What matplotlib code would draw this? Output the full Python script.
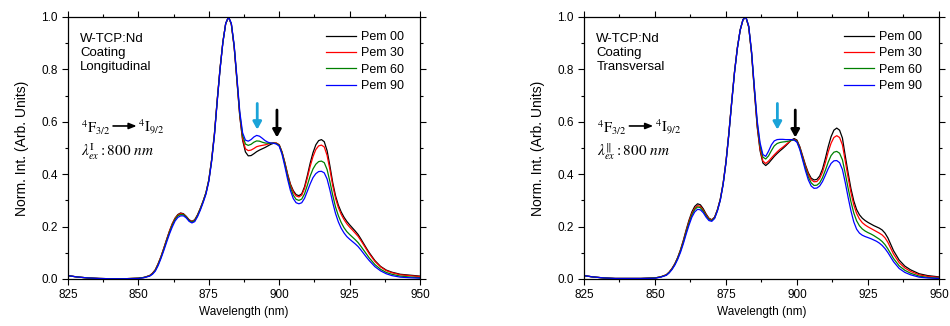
"""
nd_emission_spectra.py

Normalised Nd3+ emission (4F3/2 -> 4I9/2) of W-TCP:Nd coatings for four
polarisation angles, longitudinal and transversal, side by side.
"""

import matplotlib.pyplot as plt
from matplotlib.ticker import MultipleLocator

plt.rcParams["font.family"] = ["Liberation Sans", "DejaVu Sans"]
plt.rcParams["mathtext.fontset"] = "stix"

# wavelength grid (nm): coarse on the flat tails, 1 nm across the bands
wavelength = ([825, 828, 832, 836, 840, 845, 850, 852, 854]
              + list(range(855, 933))
              + [934, 936, 938, 940, 943, 946, 950])

series_names = ["Pem 00", "Pem 30", "Pem 60", "Pem 90"]

# --- Longitudinal ---  (rows: 825-854 | 855-864 | 865-874 | ... | 925-932 | 934-950)
long_00 = [0.013, 0.008, 0.004, 0.002, 0.001, 0.001, 0.003, 0.006, 0.013,
           0.022, 0.035, 0.058, 0.085, 0.117, 0.150, 0.182, 0.210, 0.232, 0.246,
           0.252, 0.249, 0.239, 0.226, 0.220, 0.226, 0.245, 0.270, 0.298, 0.330,
           0.378, 0.455, 0.555, 0.685, 0.805, 0.905, 0.975, 1.000, 0.972, 0.885,
           0.755, 0.620, 0.530, 0.485, 0.470, 0.471, 0.478, 0.486, 0.492, 0.497,
           0.502, 0.508, 0.514, 0.518, 0.518, 0.512, 0.485, 0.445, 0.400, 0.362,
           0.337, 0.322, 0.318, 0.325, 0.352, 0.395, 0.442, 0.482, 0.512, 0.528,
           0.532, 0.524, 0.490, 0.432, 0.368, 0.318, 0.282, 0.256, 0.236, 0.220,
           0.207, 0.195, 0.183, 0.170, 0.153, 0.135, 0.117, 0.100,
           0.070, 0.048, 0.034, 0.026, 0.018, 0.015, 0.011]
long_30 = [0.013, 0.008, 0.004, 0.002, 0.001, 0.001, 0.003, 0.006, 0.013,
           0.022, 0.035, 0.058, 0.085, 0.117, 0.150, 0.182, 0.210, 0.231, 0.244,
           0.250, 0.247, 0.237, 0.225, 0.219, 0.225, 0.244, 0.269, 0.297, 0.329,
           0.377, 0.455, 0.555, 0.685, 0.805, 0.905, 0.975, 1.000, 0.972, 0.886,
           0.757, 0.624, 0.535, 0.497, 0.490, 0.492, 0.498, 0.505, 0.508, 0.510,
           0.512, 0.515, 0.518, 0.520, 0.519, 0.512, 0.484, 0.443, 0.397, 0.358,
           0.332, 0.317, 0.313, 0.320, 0.346, 0.386, 0.430, 0.467, 0.494, 0.508,
           0.511, 0.504, 0.472, 0.418, 0.357, 0.308, 0.273, 0.247, 0.227, 0.211,
           0.198, 0.187, 0.175, 0.163, 0.147, 0.130, 0.113, 0.096,
           0.067, 0.046, 0.032, 0.024, 0.016, 0.013, 0.009]
long_60 = [0.013, 0.008, 0.004, 0.002, 0.001, 0.001, 0.003, 0.006, 0.012,
           0.020, 0.033, 0.055, 0.082, 0.113, 0.146, 0.177, 0.205, 0.227, 0.241,
           0.246, 0.245, 0.236, 0.223, 0.217, 0.223, 0.242, 0.267, 0.296, 0.328,
           0.376, 0.452, 0.552, 0.682, 0.803, 0.904, 0.975, 1.000, 0.974, 0.890,
           0.762, 0.630, 0.548, 0.515, 0.510, 0.514, 0.522, 0.527, 0.526, 0.522,
           0.519, 0.518, 0.518, 0.519, 0.517, 0.510, 0.481, 0.438, 0.390, 0.349,
           0.320, 0.304, 0.300, 0.305, 0.325, 0.358, 0.393, 0.420, 0.438, 0.448,
           0.450, 0.444, 0.418, 0.372, 0.320, 0.275, 0.242, 0.216, 0.196, 0.181,
           0.170, 0.160, 0.150, 0.139, 0.125, 0.110, 0.095, 0.080,
           0.055, 0.037, 0.025, 0.018, 0.011, 0.008, 0.005]
long_90 = [0.013, 0.008, 0.004, 0.002, 0.001, 0.001, 0.002, 0.005, 0.011,
           0.018, 0.030, 0.051, 0.078, 0.108, 0.140, 0.171, 0.198, 0.221, 0.235,
           0.241, 0.241, 0.233, 0.220, 0.214, 0.219, 0.238, 0.263, 0.292, 0.324,
           0.372, 0.448, 0.548, 0.678, 0.800, 0.902, 0.975, 1.000, 0.976, 0.893,
           0.768, 0.638, 0.558, 0.530, 0.526, 0.532, 0.542, 0.548, 0.545, 0.537,
           0.528, 0.522, 0.519, 0.518, 0.515, 0.507, 0.476, 0.430, 0.380, 0.337,
           0.307, 0.291, 0.287, 0.291, 0.308, 0.335, 0.363, 0.387, 0.402, 0.410,
           0.411, 0.405, 0.382, 0.340, 0.292, 0.250, 0.218, 0.194, 0.176, 0.162,
           0.152, 0.143, 0.134, 0.124, 0.111, 0.097, 0.083, 0.070,
           0.047, 0.031, 0.020, 0.013, 0.007, 0.005, 0.003]

# --- Transversal ---
trans_00 = [0.013, 0.008, 0.004, 0.002, 0.002, 0.002, 0.004, 0.008, 0.016,
            0.026, 0.040, 0.058, 0.082, 0.112, 0.148, 0.188, 0.225, 0.256, 0.277,
            0.287, 0.283, 0.268, 0.248, 0.232, 0.226, 0.236, 0.265, 0.305, 0.365,
            0.448, 0.555, 0.675, 0.790, 0.882, 0.950, 0.990, 1.000, 0.962, 0.862,
            0.718, 0.580, 0.490, 0.443, 0.433, 0.442, 0.455, 0.468, 0.479, 0.489,
            0.498, 0.508, 0.519, 0.530, 0.536, 0.530, 0.505, 0.470, 0.435, 0.405,
            0.385, 0.378, 0.380, 0.393, 0.420, 0.460, 0.505, 0.543, 0.568, 0.576,
            0.568, 0.538, 0.470, 0.405, 0.345, 0.298, 0.265, 0.245, 0.232, 0.223,
            0.216, 0.210, 0.204, 0.199, 0.194, 0.187, 0.175, 0.157,
            0.108, 0.072, 0.049, 0.035, 0.020, 0.013, 0.008]
trans_30 = [0.013, 0.008, 0.004, 0.002, 0.002, 0.002, 0.004, 0.008, 0.016,
            0.026, 0.040, 0.058, 0.081, 0.110, 0.145, 0.184, 0.220, 0.250, 0.270,
            0.280, 0.277, 0.263, 0.245, 0.230, 0.225, 0.235, 0.264, 0.304, 0.364,
            0.447, 0.555, 0.675, 0.790, 0.882, 0.950, 0.990, 1.000, 0.962, 0.863,
            0.720, 0.584, 0.496, 0.450, 0.441, 0.450, 0.462, 0.474, 0.485, 0.495,
            0.503, 0.512, 0.521, 0.529, 0.533, 0.527, 0.502, 0.466, 0.430, 0.399,
            0.379, 0.371, 0.372, 0.384, 0.408, 0.444, 0.485, 0.518, 0.540, 0.547,
            0.540, 0.512, 0.450, 0.388, 0.330, 0.283, 0.250, 0.229, 0.215, 0.206,
            0.199, 0.193, 0.187, 0.181, 0.175, 0.168, 0.157, 0.140,
            0.095, 0.062, 0.042, 0.029, 0.016, 0.010, 0.006]
trans_60 = [0.013, 0.008, 0.004, 0.002, 0.002, 0.002, 0.004, 0.008, 0.015,
            0.025, 0.038, 0.056, 0.079, 0.107, 0.141, 0.179, 0.214, 0.244, 0.265,
            0.275, 0.272, 0.259, 0.241, 0.227, 0.223, 0.233, 0.262, 0.302, 0.362,
            0.445, 0.552, 0.672, 0.788, 0.880, 0.950, 0.990, 1.000, 0.964, 0.866,
            0.727, 0.595, 0.510, 0.465, 0.458, 0.470, 0.490, 0.508, 0.517, 0.521,
            0.523, 0.524, 0.526, 0.529, 0.531, 0.525, 0.498, 0.460, 0.422, 0.389,
            0.367, 0.357, 0.358, 0.367, 0.387, 0.415, 0.446, 0.471, 0.484, 0.487,
            0.480, 0.455, 0.403, 0.347, 0.295, 0.252, 0.222, 0.203, 0.191, 0.183,
            0.177, 0.172, 0.166, 0.159, 0.152, 0.143, 0.131, 0.115,
            0.078, 0.050, 0.033, 0.022, 0.011, 0.006, 0.003]
trans_90 = [0.013, 0.008, 0.004, 0.002, 0.002, 0.002, 0.003, 0.007, 0.014,
            0.023, 0.036, 0.053, 0.075, 0.102, 0.135, 0.172, 0.206, 0.236, 0.256,
            0.266, 0.264, 0.253, 0.236, 0.223, 0.220, 0.231, 0.260, 0.300, 0.360,
            0.443, 0.550, 0.670, 0.786, 0.878, 0.950, 0.990, 1.000, 0.966, 0.870,
            0.733, 0.604, 0.520, 0.475, 0.468, 0.488, 0.512, 0.527, 0.532, 0.533,
            0.533, 0.532, 0.532, 0.532, 0.530, 0.522, 0.494, 0.454, 0.413, 0.378,
            0.355, 0.346, 0.347, 0.355, 0.372, 0.396, 0.421, 0.441, 0.451, 0.452,
            0.444, 0.418, 0.368, 0.312, 0.260, 0.218, 0.190, 0.175, 0.167, 0.162,
            0.158, 0.154, 0.149, 0.144, 0.137, 0.128, 0.116, 0.101,
            0.066, 0.040, 0.025, 0.016, 0.007, 0.004, 0.002]

colors = ["black", "#ff0000", "#008000", "#0000ff"]

panels = [
    ("W-TCP:Nd\nCoating\nLongitudinal", r"$\lambda_{ex}^{\mathrm{I}}$", [long_00, long_30, long_60, long_90],
     892.2, 899.2),
    ("W-TCP:Nd\nCoating\nTransversal", r"$\lambda_{ex}^{\Vert}$", [trans_00, trans_30, trans_60, trans_90],
     893.1, 899.4),
]

fig = plt.figure(figsize=(9.5, 3.26), dpi=100)
axes = [fig.add_axes([0.0716, 0.1442, 0.3705, 0.8037]),
        fig.add_axes([0.6147, 0.1442, 0.3737, 0.8037])]

for ax, (title, lam, curves, cyan_x, black_x) in zip(axes, panels):
    for y, c, name in zip(curves, colors, series_names):
        ax.plot(wavelength, y, color=c, lw=0.9, label=name)

    ax.set_xlim(825, 950)
    ax.set_ylim(0, 1.0)
    ax.xaxis.set_major_locator(MultipleLocator(25))
    ax.xaxis.set_minor_locator(MultipleLocator(12.5))
    ax.yaxis.set_major_locator(MultipleLocator(0.2))
    ax.yaxis.set_minor_locator(MultipleLocator(0.1))
    ax.tick_params(which="both", direction="out", top=True, right=True, labelsize=8.5, width=0.8)
    ax.tick_params(which="major", length=4)
    ax.tick_params(which="minor", length=2.5)
    ax.set_xlabel("Wavelength (nm)", fontsize=8.5, labelpad=3)
    ax.set_ylabel("Norm. Int. (Arb. Units)", fontsize=10, labelpad=9)
    for s in ax.spines.values():
        s.set_linewidth(0.9)

    ax.legend(loc="upper left", bbox_to_anchor=(0.733, 0.946), frameon=False, fontsize=9,
              borderaxespad=0, borderpad=0, handlelength=2.4, handletextpad=0.4, labelspacing=0.34)

    ax.text(0.035, 0.94, title, transform=ax.transAxes, fontsize=9.5, va="top", ha="left",
            linespacing=1.25)

    # transition label
    ax.text(0.036, 0.578, r"$^{4}\mathrm{F}_{3/2}$", transform=ax.transAxes, fontsize=10.5,
            va="center", ha="left")
    ax.annotate("", xy=(0.195, 0.584), xytext=(0.128, 0.584), xycoords="axes fraction",
                arrowprops=dict(arrowstyle="-|>,head_width=0.18,head_length=0.45", lw=1.2,
                                color="black", shrinkA=0, shrinkB=0))
    ax.text(0.199, 0.578, r"$^{4}\mathrm{I}_{9/2}$", transform=ax.transAxes, fontsize=10.5,
            va="center", ha="left")
    ax.text(0.036, 0.486, lam + r"$: 800\ nm$", transform=ax.transAxes, fontsize=11,
            va="center", ha="left")

    # markers of the two components
    ax.annotate("", xy=(cyan_x, 0.57), xytext=(cyan_x, 0.67),
                arrowprops=dict(arrowstyle="-|>,head_width=0.25,head_length=0.45", lw=2,
                                color="#1aa3d8", shrinkA=0, shrinkB=0))
    ax.annotate("", xy=(black_x, 0.54), xytext=(black_x, 0.645),
                arrowprops=dict(arrowstyle="-|>,head_width=0.25,head_length=0.45", lw=2,
                                color="black", shrinkA=0, shrinkB=0))

fig.savefig("out.png", dpi=100)
